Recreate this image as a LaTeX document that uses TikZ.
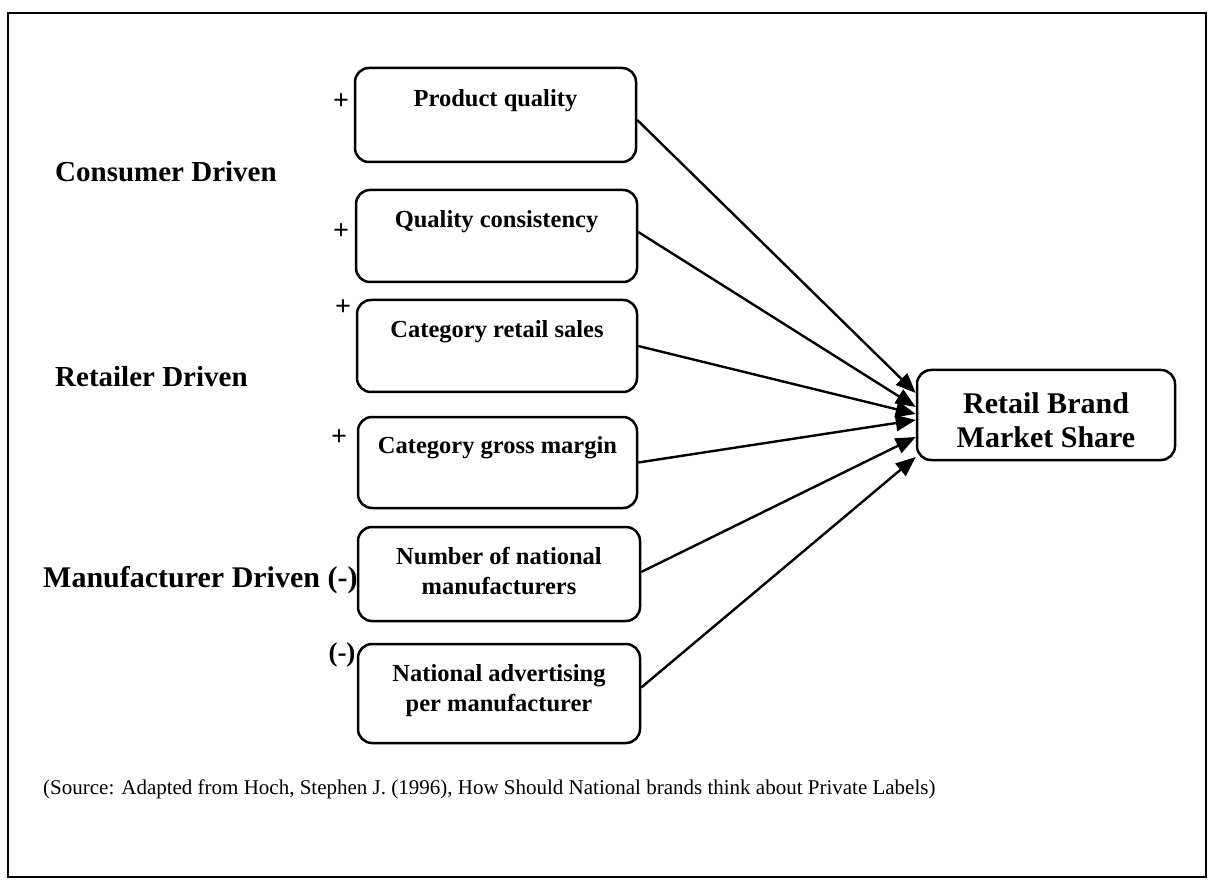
\documentclass[tikz,border=0pt]{standalone}
\usepackage{fontspec}
\setmainfont{Liberation Serif}
\usetikzlibrary{arrows.meta,calc}
\begin{document}
\begin{tikzpicture}[x=1pt,y=-1pt,
  box/.style={draw, line width=2.5pt, rounded corners=14pt, minimum width=281pt, inner sep=0pt},
  boxtext/.style={font=\fontsize{24.5}{30}\selectfont\bfseries, align=center, inner sep=0pt, anchor=north},
  group/.style={font=\fontsize{29}{34}\selectfont\bfseries, anchor=base west, inner sep=0pt},
  sign/.style={font=\fontsize{28}{30}\selectfont\bfseries, inner sep=0pt},
  arr/.style={line width=2.4pt, -{Triangle[length=20pt,width=16pt]}},
]
\useasboundingbox (0,0) rectangle (1210,882);
\node[draw, line width=2.2pt, minimum width=1198pt, minimum height=864pt, inner sep=0pt, anchor=north west] (frame) at (7,12) {};

% factor boxes
\node[box, minimum width=281pt, minimum height=94pt] (b1) at (495.5,115) {};
\node[box, minimum width=281pt, minimum height=92pt] (b2) at (496.5,236) {};
\node[box, minimum width=280pt, minimum height=92pt] (b3) at (497,346) {};
\node[box, minimum width=279pt, minimum height=91pt] (b4) at (497.5,462.5) {};
\node[box, minimum width=282pt, minimum height=94pt] (b5) at (499,574) {};
\node[box, minimum width=282pt, minimum height=99pt] (b6) at (499,693.5) {};

\node[boxtext] (t1) at ($(b1.north)+(0,23)$) {Product quality};
\node[boxtext] (t2) at ($(b2.north)+(0,22)$) {Quality consistency};
\node[boxtext] (t3) at ($(b3.north)+(0,22)$) {Category retail sales};
\node[boxtext] (t4) at ($(b4.north)+(0,21)$) {Category gross margin};
\node[boxtext] (t5) at ($(b5.north)+(0,21)$) {Number of national\\manufacturers};
\node[boxtext] (t6) at ($(b6.north)+(0,22)$) {National advertising\\per manufacturer};

% target
\node[box, minimum width=258pt, minimum height=90pt] (tgt) at (1046,415) {};
\node[font=\fontsize{30}{34}\selectfont\bfseries, align=center, inner sep=0pt] (tt) at (1046,420) {Retail Brand\\Market Share};

% group labels
\node[group] (g1) at (55,182) {Consumer Driven};
\node[group] (g2) at (55,387) {Retailer Driven};
\node[group, font=\fontsize{30}{34}\selectfont\bfseries] (g3) at (43,587) {Manufacturer Driven (-)};

% signs
\node[sign] (s1) at (341,102) {+};
\node[sign] (s2) at (341,232) {+};
\node[sign] (s3) at (343,308) {+};
\node[sign] (s4) at (339,438) {+};
\node[sign, font=\fontsize{27}{30}\selectfont\bfseries] (s6) at (342,655) {(-)};

% arrows
\draw[arr] ($(b1.east)+(0,5)$) -- ($(tgt.west)+(0,-22)$);
\draw[arr] ($(b2.east)+(0,-4)$) -- ($(tgt.west)+(0,-8)$);
\draw[arr] (b3.east) -- ($(tgt.west)+(0,-1)$);
\draw[arr] (b4.east) -- ($(tgt.west)+(0,5)$);
\draw[arr] ($(b5.east)+(0,-2)$) -- ($(tgt.west)+(0,22)$);
\draw[arr] ($(b6.east)+(0,-6)$) -- ($(tgt.west)+(0,42)$);

% source
\node[font=\fontsize{21}{24}\selectfont, anchor=base west, inner sep=0pt] (src) at (43,794) {(Source: Adapted from Hoch, Stephen J. (1996), How Should National brands think about Private Labels)};
\end{tikzpicture}
\end{document}
